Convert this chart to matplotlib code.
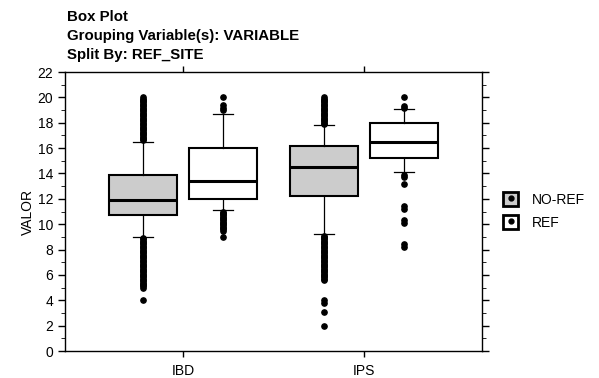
import matplotlib
matplotlib.use('Agg')
import matplotlib.pyplot as plt
from matplotlib.patches import Rectangle
from matplotlib.lines import Line2D
from matplotlib.ticker import MultipleLocator

plt.rcParams['font.family'] = ['Liberation Sans', 'DejaVu Sans']

categories = ['IBD', 'IPS']
groups = ['NO-REF', 'REF']
group_colors = ['#cccccc', '#ffffff']

# box stats: (whislo, q1, med, q3, whishi)
stats = {
    ('IBD', 'NO-REF'): (9.0, 10.7, 11.9, 13.9, 16.5),
    ('IBD', 'REF'): (11.1, 11.95, 13.4, 16.0, 18.7),
    ('IPS', 'NO-REF'): (9.2, 12.2, 14.5, 16.2, 17.8),
    ('IPS', 'REF'): (14.1, 15.25, 16.5, 18.0, 19.1),
}

fliers = {
    ('IBD', 'NO-REF'): [16.6, 16.7, 16.8, 16.9, 17.0, 17.1, 17.2, 17.3, 17.4, 17.5,
                        17.6, 17.7, 17.8, 17.9, 18.0, 18.1, 18.2, 18.3, 18.4, 18.5,
                        18.6, 18.7, 18.8, 18.9, 19.0, 19.1, 19.2, 19.3, 19.4, 19.5,
                        19.6, 19.7, 19.8, 19.9, 20.0,
                        8.9, 8.8, 8.7, 8.6, 8.5, 8.4, 8.3, 8.2, 8.1, 8.0, 7.9, 7.8,
                        7.7, 7.6, 7.5, 7.4, 7.3, 7.2, 7.1, 7.0, 6.9, 6.8, 6.7, 6.6,
                        6.5, 6.4, 6.3, 6.2, 6.1, 6.0, 5.9, 5.8, 5.7, 5.6, 5.5, 5.4,
                        5.3, 5.2, 5.1, 5.0, 4.0],
    ('IBD', 'REF'): [20.0, 19.4, 19.2, 19.0, 11.0, 10.9, 10.8, 10.7, 10.6, 10.5, 10.4,
                     10.3, 10.2, 10.1, 10.0, 9.9, 9.8, 9.7, 9.6, 9.5, 9.0],
    ('IPS', 'NO-REF'): [17.9, 18.0, 18.1, 18.2, 18.3, 18.4, 18.5, 18.6, 18.7, 18.8,
                        18.9, 19.0, 19.1, 19.2, 19.3, 19.4, 19.5, 19.6, 19.7, 19.8,
                        19.9, 20.0,
                        9.1, 9.0, 8.9, 8.8, 8.7, 8.6, 8.5, 8.4, 8.3, 8.2, 8.1, 8.0,
                        7.9, 7.8, 7.7, 7.6, 7.5, 7.4, 7.3, 7.2, 7.1, 7.0, 6.9, 6.8,
                        6.7, 6.6, 6.5, 6.4, 6.3, 6.2, 6.1, 6.0, 5.9, 5.8, 5.7, 5.6,
                        4.0, 3.8, 3.1, 2.0],
    ('IPS', 'REF'): [20.0, 19.3, 19.15, 13.9, 13.75, 13.2, 11.4, 11.2, 10.3, 10.1, 8.4, 8.2],
}


def main():
    fig = plt.figure(figsize=(5.99, 3.78), dpi=100)
    ax = fig.add_axes([0.1085, 0.0714, 0.6962, 0.7381])

    offset = 0.221
    for i, cat in enumerate(categories):
        for j, grp in enumerate(groups):
            lo, q1, med, q3, hi = stats[(cat, grp)]
            bstat = [dict(whislo=lo, q1=q1, med=med, q3=q3, whishi=hi,
                          fliers=fliers[(cat, grp)])]
            pos = i + 1 + (offset if j else -offset)
            ax.bxp(bstat, positions=[pos], widths=0.375, patch_artist=True,
                   capwidths=0.11, manage_ticks=False,
                   boxprops=dict(facecolor=group_colors[j], edgecolor='black', linewidth=1.5),
                   medianprops=dict(color='black', linewidth=2.2),
                   whiskerprops=dict(color='black', linewidth=0.9),
                   capprops=dict(color='black', linewidth=0.9),
                   flierprops=dict(marker='o', markerfacecolor='black',
                                   markeredgecolor='black', markersize=3.8))

    ax.set_xlim(0.348, 2.652)
    ax.set_ylim(0, 22)
    ax.set_xticks([1, 2])
    ax.set_xticklabels(categories)
    ax.yaxis.set_major_locator(MultipleLocator(2))
    ax.yaxis.set_minor_locator(MultipleLocator(1))
    ax.tick_params(axis='both', labelsize=10, direction='out', width=1)
    ax.tick_params(axis='y', which='major', length=5, left=True, right=True)
    ax.tick_params(axis='y', which='minor', length=3, left=True, right=True)
    ax.tick_params(axis='x', length=4, top=True, bottom=True, pad=5)
    ax.set_ylabel('VALOR', fontsize=10, labelpad=2)
    for s in ax.spines.values():
        s.set_linewidth(1.0)

    # title block, left aligned
    fig.text(0.112, 1 - 21 / 378, 'Box Plot', fontsize=10.8, fontweight='bold', va='baseline')
    fig.text(0.112, 1 - 40 / 378, 'Grouping Variable(s): VARIABLE', fontsize=10.8,
             fontweight='bold', va='baseline')
    fig.text(0.112, 1 - 59 / 378, 'Split By: REF_SITE', fontsize=10.8, fontweight='bold',
             va='baseline')

    handles = []
    for c in group_colors:
        sq = Rectangle((0, 0), 1, 1, facecolor=c, edgecolor='black', linewidth=2)
        dot = Line2D([], [], marker='o', color='black', linestyle='none', markersize=3.5)
        handles.append((sq, dot))
    fig.legend(handles, groups, loc='center left', bbox_to_anchor=(0.828, 1 - 211 / 378),
               frameon=False, fontsize=10, handlelength=1.1, handleheight=1.1,
               handletextpad=1.0, labelspacing=0.6, borderpad=0)

    fig.savefig('out.png', dpi=100)


if __name__ == '__main__':
    main()
